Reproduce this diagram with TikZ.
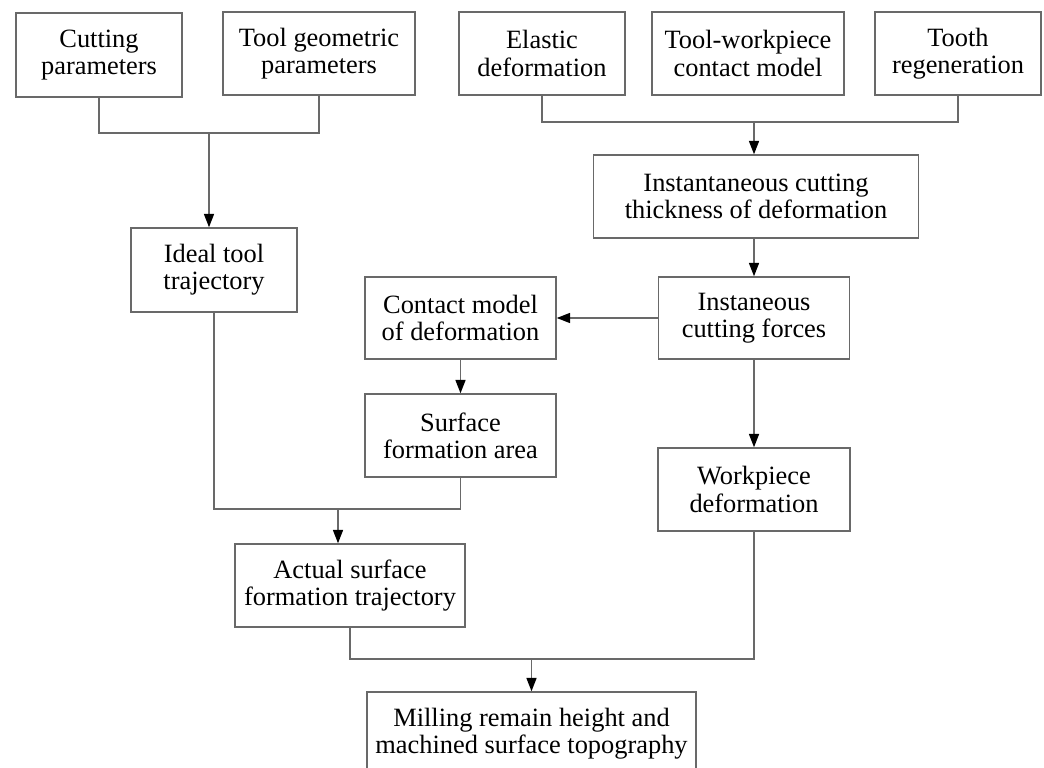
\documentclass[tikz,border=0pt]{standalone}
\usepackage{fontspec}
\setmainfont{Liberation Serif}
\usetikzlibrary{arrows.meta}
\definecolor{linegray}{RGB}{105,105,105}
\begin{document}
\begin{tikzpicture}[x=0.75pt,y=-0.75pt,
  box/.style={draw=linegray,line width=1.1pt,fill=white,align=center,inner sep=0pt,
    font=\fontsize{19.8}{20.5}\selectfont},
  conn/.style={draw=linegray,line width=1.1pt},
  arr/.style={conn,-{Triangle[length=10pt,width=7.5pt,color=black]}}]
\useasboundingbox (0,0) rectangle (1044,767);
\fill[white] (0,0) rectangle (1044,767);
\clip (0,0) rectangle (1044,767);
% top row
\node[box,minimum width=124.5pt,minimum height=63pt] (cut) at (99,55) {Cutting\\parameters};
\node[box,minimum width=144pt,minimum height=62.25pt] (geo) at (319,53.5) {Tool geometric\\parameters};
\node[box,minimum width=124.5pt,minimum height=62.25pt] (ela) at (542,53.5) {Elastic\\deformation};
\node[box,minimum width=144pt,minimum height=62.25pt] (tw) at (748,53.5) {Tool-workpiece\\contact model};
\node[box,minimum width=124.5pt,minimum height=62.25pt] (tooth) at (958,53.5) {Tooth\\regeneration};
% middle
\node[box,minimum width=243.75pt,minimum height=62.25pt] (thick) at (756,196.5) {Instantaneous cutting\\thickness of deformation};
\node[box,minimum width=124.5pt,minimum height=63pt] (ideal) at (214,270) {Ideal tool\\trajectory};
\node[box,minimum width=143.25pt,minimum height=61.5pt] (contact) at (460.5,318) {Contact model\\of deformation};
\node[box,minimum width=143.25pt,minimum height=61.5pt] (forces) at (754,318) {Instaneous\\cutting forces};
\node[box,minimum width=143.25pt,minimum height=62.25pt] (surf) at (460.5,435.5) {Surface\\formation area};
\node[box,minimum width=144pt,minimum height=62.25pt] (work) at (754,489.5) {Workpiece\\deformation};
\node[box,minimum width=172.5pt,minimum height=62.25pt] (actual) at (350,585.5) {Actual surface\\formation trajectory};
\node[box,minimum width=246.75pt,minimum height=62.25pt] (mill) at (531.5,733.5) {Milling remain height and\\machined surface topography};
% connectors
\coordinate (j1) at (209,133);
\draw[conn] (cut.south) |- (j1) -| (geo.south);
\draw[arr] (j1) -- (j1 |- ideal.north);
\coordinate (j2) at (754,122);
\draw[conn] (ela.south) |- (j2) -| (tooth.south);
\draw[arr] (j2) -- (j2 |- thick.north);
\draw[arr] (thick.south -| forces.north) -- (forces.north);
\draw[arr] (forces.west) -- (contact.east);
\draw[arr] (contact.south) -- (surf.north);
\draw[arr] (forces.south) -- (work.north);
\coordinate (j3) at (338,509);
\draw[conn] (ideal.south) |- (j3) -| (surf.south);
\draw[arr] (j3) -- (j3 |- actual.north);
\coordinate (j4) at (531.5,659);
\draw[conn] (actual.south) |- (j4) -| (work.south);
\draw[arr] (j4) -- (mill.north);
\end{tikzpicture}
\end{document}
